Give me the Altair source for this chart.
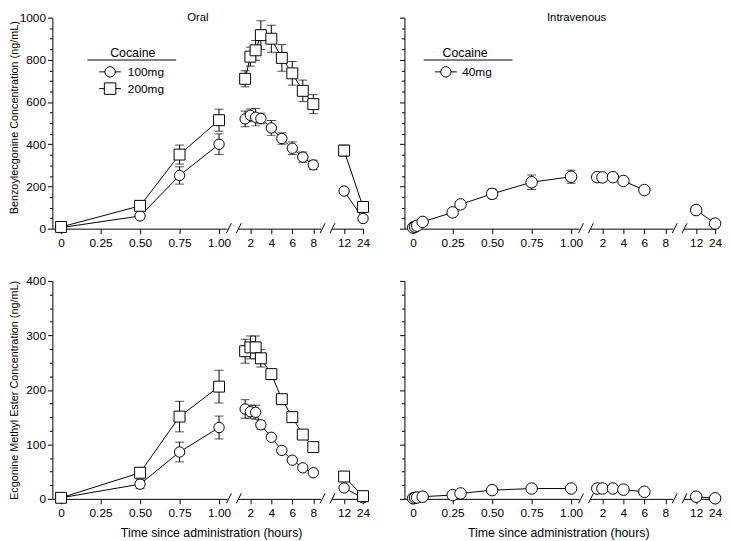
import altair as alt
import pandas as pd

# ------------------------------------------------------------------ data
oral_times = [0, 0.5, 0.75, 1.0, 1.5, 2, 2.5, 3, 4, 5, 6, 7, 8, 12, 24]
iv_times = [0, 0.012, 0.025, 0.06, 0.25, 0.3, 0.5, 0.75, 1.0, 1.5, 2, 3, 4, 6, 12, 24]

be_oral_100 = [5, 60, 252, 400, 520, 537, 528, 522, 477, 427, 381, 339, 302, 178, 48]
be_oral_100_sem = [0, 0, 41, 49, 37, 30, 41, 25, 35, 27, 30, 24, 22, 0, 0]
be_oral_200 = [8, 108, 351, 514, 710, 815, 845, 917, 900, 809, 736, 653, 590, 370, 103]
be_oral_200_sem = [0, 10, 45, 52, 38, 45, 47, 68, 64, 63, 56, 51, 45, 26, 0]
be_iv_40 = [5, 9, 14, 32, 77, 115, 165, 220, 246, 244, 243, 244, 226, 183, 88, 24]
be_iv_40_sem = [0, 0, 0, 0, 0, 0, 23, 34, 31, 0, 0, 0, 0, 0, 0, 0]

eme_oral_100 = [2, 27, 86, 131, 165, 160, 159, 136, 113, 89, 71, 57, 48, 20, 2]
eme_oral_100_sem = [0, 8, 18, 21, 17, 12, 13, 8, 0, 0, 0, 0, 0, 0, 0]
eme_oral_200 = [2, 48, 151, 206, 271, 278, 278, 258, 229, 183, 150, 118, 95, 41, 5]
eme_oral_200_sem = [0, 9, 28, 30, 22, 21, 21, 16, 3, 0, 0, 0, 0, 0, 0]
eme_iv_40 = [1, 2, 2.5, 4, 7, 10, 16, 19, 19, 19, 19, 19, 17, 13, 4, 1]
eme_iv_40_sem = [0] * 16

doses = ["100mg", "200mg", "40mg"]
dose_shapes = ["circle", "square", "circle"]
legend_title = "Cocaine"
panel_titles = ["Oral", "Intravenous"]
y_titles = ["Benzoylecgonine Concentration (ng/mL)",
            "Ecgonine Methyl Ester  Concentration (ng/mL)"]
x_title = "Time since administration (hours)"

seg_ticks = [[0, 0.25, 0.5, 0.75, 1.0], [2, 4, 6, 8], [12, 24]]

# ------------------------------------------------------------------ layout
FONT = "Liberation Sans"
H_TOP, H_BOT = 214, 221
SEG_DOM = [[-0.055, 1.05], [0.8, 8.7], [4, 24]]
SEG_RNG = [177, 84, 32]
GAP = 11
PANEL_GAP = 42
CIRCLE_SIZE, SQUARE_SIZE = 110, 135

one = pd.DataFrame({"k": [0]})


def frame(times, vals, sems, dose):
    df = pd.DataFrame({"t": times, "v": vals, "err": sems})
    df["dose"] = dose
    df["lo"] = df["v"] - df["err"]
    df["hi"] = df["v"] + df["err"]
    return df


def seg_subset(df, i):
    if i == 0:
        return df[df["t"] <= 1.0]
    if i == 1:
        return df[(df["t"] > 1.0) & (df["t"] <= 8)]
    return df[df["t"] >= 12]


def slash(x0, h):
    return alt.Chart(one).mark_rule(color="black", strokeWidth=1).encode(
        x=alt.value(x0), x2=alt.value(x0 + 5),
        y=alt.value(h + 4.5), y2=alt.value(h - 5.5))


def legend_layers(entries, cx, lx0, lx1, sx, label_x):
    out = [
        alt.Chart(one).mark_text(text=legend_title, fontSize=12.5, align="center",
                                 baseline="middle", color="black").encode(
            x=alt.value(cx), y=alt.value(36)),
        alt.Chart(one).mark_rule(color="black", strokeWidth=1).encode(
            x=alt.value(lx0), x2=alt.value(lx1), y=alt.value(43)),
    ]
    for j, dose in enumerate(entries):
        yy = 55 + 17 * j
        shp = dose_shapes[doses.index(dose)]
        sz = SQUARE_SIZE if shp == "square" else CIRCLE_SIZE
        out += [
            alt.Chart(one).mark_rule(color="black", strokeWidth=1).encode(
                x=alt.value(sx - 11), x2=alt.value(sx + 11), y=alt.value(yy)),
            alt.Chart(one).mark_point(shape=shp, size=sz, filled=True, fill="white",
                                      stroke="black", strokeWidth=1, opacity=1).encode(
                x=alt.value(sx), y=alt.value(yy)),
            alt.Chart(one).mark_text(text=dose, fontSize=12, align="left",
                                     baseline="middle", color="black").encode(
                x=alt.value(label_x), y=alt.value(yy)),
        ]
    return out


def seg_chart(df, i, h, ymax, minor, major, ytitle, ylabels, xtitle,
              extra, legend=None, head=None, ytitle_dy=0, xtitle_x=158):
    d = seg_subset(df, i)
    xscale = alt.Scale(domain=SEG_DOM[i], range=[0, SEG_RNG[i]], nice=False, zero=False)
    xk = dict(values=seg_ticks[i], tickSize=5, labelPadding=4, labelFlush=False,
              labelOverlap=False, domainWidth=1, tickWidth=1)
    if i == 0:
        xk["labelExpr"] = "datum.value === 0 ? '0' : format(datum.value, '.2f')"
    else:
        xk["format"] = "d"
    if xtitle and i == 0:
        xaxis = alt.Axis(title=xtitle, titleX=xtitle_x, titleY=28, titleFontSize=12.5, **xk)
    else:
        xaxis = alt.Axis(title=None, **xk)

    yscale = alt.Scale(domain=[0, ymax], nice=False, zero=False)
    if i == 0:
        yk = dict(values=list(range(0, ymax + 1, minor)),
                  labelExpr=f"datum.value % {major} === 0 ? datum.label : ''",
                  format="d", labelOverlap=False, labels=ylabels, labelPadding=2,
                  domainWidth=1, tickWidth=1,
                  tickSize={"condition": {"test": f"datum.value % {major} === 0", "value": 5},
                            "value": 3})
        if ytitle:
            yaxis = alt.Axis(title=ytitle, titleX=-33, titleY=h / 2 + ytitle_dy,
                             titleFontSize=11, **yk)
        else:
            yaxis = alt.Axis(title=None, **yk)
    else:
        yaxis = None

    X = alt.X("t:Q", scale=xscale, axis=xaxis)
    Y = alt.Y("v:Q", scale=yscale, axis=yaxis)
    shape = alt.Shape("dose:N", scale=alt.Scale(domain=doses, range=dose_shapes), legend=None)
    size = alt.Size("dose:N", scale=alt.Scale(domain=doses,
                                              range=[CIRCLE_SIZE, SQUARE_SIZE, CIRCLE_SIZE]),
                    legend=None)

    base = alt.Chart(d)
    layers = [
        base.mark_line(color="black", strokeWidth=1).encode(
            x=X, y=Y, detail="dose:N", order="t:Q"),
    ]
    err = base.transform_filter("datum.err > 0")
    layers += [
        err.mark_rule(color="black", strokeWidth=1).encode(
            x=X, y=alt.Y("lo:Q", scale=yscale, axis=yaxis), y2="hi:Q"),
        err.mark_tick(orient="horizontal", size=9, thickness=1, color="black").encode(
            x=X, y=alt.Y("lo:Q", scale=yscale, axis=yaxis)),
        err.mark_tick(orient="horizontal", size=9, thickness=1, color="black").encode(
            x=X, y=alt.Y("hi:Q", scale=yscale, axis=yaxis)),
        base.mark_point(filled=True, fill="white", stroke="black", strokeWidth=1,
                        opacity=1).encode(x=X, y=Y, shape=shape, size=size),
    ]
    # axis break marks
    if i == 0:
        layers.append(slash(SEG_RNG[0] - 0.5, h))
    elif i == 1:
        layers.append(slash(-1.5, h))
        layers.append(slash(SEG_RNG[1] - 0.5, h))
    else:
        layers.append(slash(-1.5, h))
    if legend is not None:
        layers += legend
    if head is not None:
        txt, hx = head
        layers.append(alt.Chart(one).mark_text(text=txt, fontSize=11.5, align="center",
                                               baseline="middle", color="black").encode(
            x=alt.value(hx), y=alt.value(0)))
    return alt.layer(*layers).properties(width=SEG_RNG[i] + extra, height=h)


be_oral = pd.concat([frame(oral_times, be_oral_100, be_oral_100_sem, "100mg"),
                     frame(oral_times, be_oral_200, be_oral_200_sem, "200mg")])
be_iv = frame(iv_times, be_iv_40, be_iv_40_sem, "40mg")
eme_oral = pd.concat([frame(oral_times, eme_oral_100, eme_oral_100_sem, "100mg"),
                      frame(oral_times, eme_oral_200, eme_oral_200_sem, "200mg")])
eme_iv = frame(iv_times, eme_iv_40, eme_iv_40_sem, "40mg")

extras_left = [GAP, GAP, PANEL_GAP]
extras_right = [GAP, GAP, 0]

charts = []
# top row
for i in range(3):
    charts.append(seg_chart(
        be_oral, i, H_TOP, 1000, 50, 200, y_titles[0] if i == 0 else None, True, None,
        extras_left[i],
        legend=legend_layers(["100mg", "200mg"], 81.5, 35.5, 125.5, 58.5, 76.5) if i == 0 else None,
        head=(panel_titles[0], 147.5) if i == 0 else None, ytitle_dy=-6))
for i in range(3):
    charts.append(seg_chart(
        be_iv, i, H_TOP, 1000, 50, 200, None, False, None, extras_right[i],
        legend=legend_layers(["40mg"], 61.5, 19.5, 109.5, 42, 58.5) if i == 0 else None,
        head=(panel_titles[1], 174.5) if i == 0 else None))
# bottom row
for i in range(3):
    charts.append(seg_chart(
        eme_oral, i, H_BOT, 400, 25, 100, y_titles[1] if i == 0 else None, True, x_title,
        extras_left[i], xtitle_x=161))
for i in range(3):
    charts.append(seg_chart(
        eme_iv, i, H_BOT, 400, 25, 100, None, False, x_title, extras_right[i],
        xtitle_x=156))

chart = alt.concat(*charts, columns=6, spacing={"row": 53, "column": 0},
                   bounds="flush").properties(padding=0).configure_axis(
    labelFont=FONT, labelFontSize=12, labelColor="black",
    titleFont=FONT, titleColor="black", titleFontWeight="normal",
    domainColor="black", tickColor="black", grid=False,
).configure_text(font=FONT).configure_view(stroke=None)

chart.save("out.html", embed_options={"renderer": "svg", "actions": False})
